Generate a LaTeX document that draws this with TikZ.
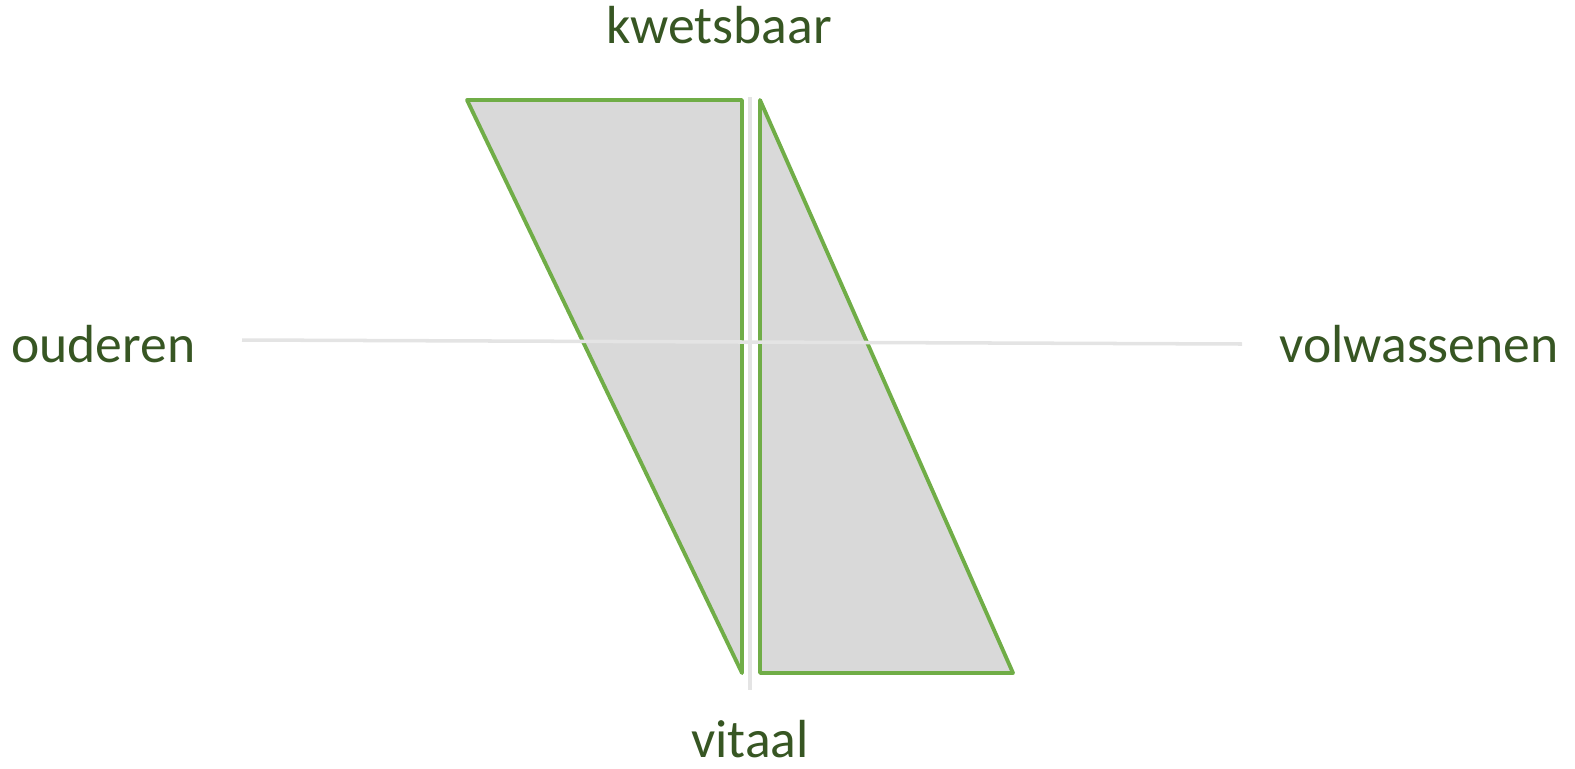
\documentclass[tikz,border=0pt]{standalone}
\usepackage{fontspec}
\setmainfont{Carlito}
\definecolor{axisgreen}{RGB}{55,86,35}
\definecolor{edgegreen}{RGB}{112,173,71}
\definecolor{fillgrey}{RGB}{217,217,217}
\definecolor{axisgrey}{RGB}{228,228,228}

\begin{document}
\begin{tikzpicture}[x=0.02cm, y=-0.02cm,
  every node/.style={font=\fontsize{30.5}{36}\selectfont, text=axisgreen, inner sep=0},
  wedge/.style={draw=edgegreen, fill=fillgrey, line width=2.2pt, line join=round},
  axis/.style={draw=axisgrey, line width=2pt}]
  \useasboundingbox (0,0) rectangle (1575,768);

  % triangles
  \draw[wedge] (467,100) -- (742,100) -- (742,673) -- cycle;
  \draw[wedge] (760,100) -- (760,673) -- (1013,673) -- cycle;

  % axes
  \coordinate (left) at (242,340);
  \coordinate (right) at (1242,344);
  \coordinate (top) at (750,97);
  \coordinate (bottom) at (750,690);
  \draw[axis] (left) -- (right);
  \draw[axis] (top) -- (bottom);

  \node[anchor=base] (kwetsbaar) at (719,43) {kwetsbaar};
  \node[anchor=base west] (ouderen) at (11,362) {ouderen};
  \node[anchor=base west] (volwassenen) at (1279,362) {volwassenen};
  \node[anchor=base] (vitaal) at (750,757) {vitaal};
\end{tikzpicture}
\end{document}
